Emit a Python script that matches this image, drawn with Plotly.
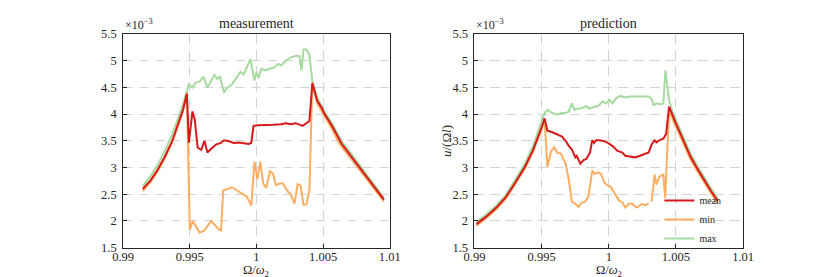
import plotly.graph_objects as go

# ---------------- data (values in units of 1e-3) ----------------
# measurement panel
meas_mean_x = [0.99147, 0.99206, 0.99257, 0.99316, 0.99368, 0.99412, 0.99449, 0.99478,
               0.99493, 0.99520, 0.99537, 0.99559, 0.99586, 0.99610, 0.99632, 0.99669,
               0.99696, 0.99733, 0.99757, 0.99794, 0.99831, 0.99868, 0.99890, 0.99941,
               0.99961, 0.99978, 1.00015, 1.00074, 1.00125, 1.00184, 1.00221, 1.00257,
               1.00294, 1.00346, 1.00397, 1.00419, 1.00456, 1.00493, 1.00507, 1.00566,
               1.00610, 1.00640, 1.00713, 1.00787, 1.00838, 1.00882, 1.00919, 1.00956]
meas_mean_y = [2.60, 2.76, 2.95, 3.22, 3.50, 3.80, 4.08, 4.38,
               3.46, 4.05, 3.90, 3.37, 3.33, 3.50, 3.28, 3.37,
               3.43, 3.46, 3.51, 3.49, 3.46, 3.47, 3.46, 3.44,
               3.46, 3.78, 3.79, 3.79, 3.80, 3.81, 3.83, 3.81,
               3.83, 3.78, 3.87, 4.58, 4.25, 4.10, 4.02, 3.78,
               3.56, 3.44, 3.20, 2.96, 2.78, 2.63, 2.52, 2.40]

meas_min_x = [0.99147, 0.99206, 0.99257, 0.99316, 0.99368, 0.99412, 0.99449, 0.99478,
              0.99500, 0.99522, 0.99574, 0.99610, 0.99660, 0.99721, 0.99735, 0.99750,
              0.99816, 0.99853, 0.99904, 0.99926, 0.99961, 0.99985, 1.00007, 1.00029,
              1.00051, 1.00074, 1.00101, 1.00125, 1.00145, 1.00174, 1.00199, 1.00235,
              1.00257, 1.00285, 1.00309, 1.00331, 1.00353, 1.00375, 1.00397, 1.00419,
              1.00456, 1.00493, 1.00507, 1.00566, 1.00610, 1.00640, 1.00713, 1.00787,
              1.00838, 1.00882, 1.00919, 1.00956]
meas_min_y = [2.56, 2.73, 2.92, 3.19, 3.47, 3.77, 4.05, 4.40,
              1.83, 2.00, 1.78, 1.82, 2.00, 1.83, 1.82, 2.57,
              2.63, 2.57, 2.50, 2.46, 2.29, 3.11, 2.78, 3.11,
              2.70, 2.62, 2.93, 2.88, 2.67, 2.70, 2.70, 2.55,
              2.50, 2.32, 2.69, 2.66, 2.30, 2.31, 2.57, 4.56,
              4.20, 4.04, 3.96, 3.72, 3.50, 3.38, 3.15, 2.91,
              2.74, 2.59, 2.47, 2.36]

meas_max_x = [0.99147, 0.99206, 0.99257, 0.99316, 0.99368, 0.99412, 0.99449, 0.99478,
              0.99493, 0.99520, 0.99544, 0.99574, 0.99603, 0.99632, 0.99684, 0.99706,
              0.99726, 0.99757, 0.99779, 0.99816, 0.99880, 0.99904, 0.99954, 0.99985,
              1.00000, 1.00015, 1.00037, 1.00064, 1.00101, 1.00137, 1.00162, 1.00184,
              1.00221, 1.00257, 1.00294, 1.00321, 1.00338, 1.00353, 1.00375, 1.00397,
              1.00419, 1.00456, 1.00493, 1.00507, 1.00566, 1.00610, 1.00640, 1.00713,
              1.00787, 1.00838, 1.00882, 1.00919, 1.00956]
meas_max_y = [2.65, 2.84, 3.04, 3.33, 3.62, 3.92, 4.18, 4.43,
              4.56, 4.50, 4.59, 4.61, 4.70, 4.50, 4.73, 4.66,
              4.70, 4.40, 4.49, 4.56, 4.79, 4.74, 5.03, 4.63,
              4.79, 4.67, 4.85, 4.82, 4.85, 4.88, 4.94, 4.91,
              5.00, 5.06, 5.09, 5.09, 4.82, 5.21, 5.21, 5.11,
              4.62, 4.30, 4.14, 4.06, 3.83, 3.61, 3.49, 3.25,
              3.00, 2.82, 2.67, 2.55, 2.43]

# prediction panel
pred_mean_x = [0.99014, 0.99087, 0.99159, 0.99232, 0.99304, 0.99377, 0.99435, 0.99471,
               0.99500, 0.99522, 0.99543, 0.99580, 0.99616, 0.99652, 0.99681, 0.99703,
               0.99725, 0.99751, 0.99761, 0.99788, 0.99812, 0.99833, 0.99860, 0.99877,
               0.99891, 0.99906, 0.99933, 0.99969, 0.99993, 1.00029, 1.00065, 1.00101,
               1.00123, 1.00159, 1.00196, 1.00232, 1.00268, 1.00297, 1.00319, 1.00341,
               1.00355, 1.00377, 1.00406, 1.00427, 1.00449, 1.00478, 1.00500, 1.00536,
               1.00572, 1.00609, 1.00659, 1.00710, 1.00761, 1.00812]
pred_mean_y = [1.94, 2.08, 2.24, 2.44, 2.72, 3.02, 3.32, 3.54,
               3.75, 3.92, 3.69, 3.66, 3.62, 3.58, 3.49, 3.40,
               3.34, 3.19, 3.22, 3.07, 3.14, 3.16, 3.28, 3.51,
               3.46, 3.51, 3.51, 3.49, 3.46, 3.40, 3.31, 3.28,
               3.22, 3.21, 3.19, 3.22, 3.25, 3.28, 3.43, 3.51,
               3.47, 3.51, 3.54, 3.63, 4.14, 3.95, 3.82, 3.62,
               3.40, 3.20, 2.98, 2.76, 2.56, 2.37]

pred_min_x = [0.99014, 0.99087, 0.99159, 0.99232, 0.99304, 0.99377, 0.99435, 0.99471,
              0.99500, 0.99522, 0.99543, 0.99570, 0.99594, 0.99616, 0.99643, 0.99679,
              0.99703, 0.99725, 0.99751, 0.99775, 0.99797, 0.99824, 0.99848, 0.99877,
              0.99896, 0.99920, 0.99942, 0.99969, 0.99993, 1.00014, 1.00051, 1.00077,
              1.00101, 1.00123, 1.00150, 1.00174, 1.00196, 1.00210, 1.00246, 1.00268,
              1.00297, None, 1.00319, 1.00341, 1.00355, 1.00377, 1.00406, 1.00420,
              1.00449, 1.00478, 1.00500, 1.00536, 1.00572, 1.00609, 1.00659, 1.00710,
              1.00761, 1.00812]
pred_min_y = [1.91, 2.05, 2.21, 2.41, 2.69, 2.99, 3.29, 3.51,
              3.72, 3.90, 3.01, 3.30, 3.38, 3.28, 3.26, 3.07,
              2.76, 2.36, 2.32, 2.26, 2.34, 2.36, 2.45, 2.94,
              2.88, 2.91, 2.88, 2.71, 2.66, 2.64, 2.50, 2.38,
              2.35, 2.25, 2.32, 2.32, 2.27, 2.25, 2.32, 2.29,
              2.33, None, 2.36, 2.87, 2.68, 2.83, 2.87, 2.43,
              4.06, 3.88, 3.76, 3.56, 3.35, 3.15, 2.93, 2.72,
              2.52, 2.33]

pred_max_x = [0.99014, 0.99087, 0.99159, 0.99232, 0.99304, 0.99377, 0.99435, 0.99471,
              0.99500, 0.99522, 0.99543, 0.99580, 0.99616, 0.99643, 0.99679, 0.99703,
              0.99725, 0.99744, 0.99761, 0.99797, 0.99833, 0.99855, 0.99884, 0.99920,
              0.99957, 0.99978, 1.00005, 1.00029, 1.00051, 1.00087, 1.00123, 1.00159,
              1.00210, 1.00261, 1.00297, 1.00319, 1.00333, 1.00355, 1.00377, 1.00406,
              1.00422, 1.00449, 1.00478, 1.00500, 1.00536, 1.00572, 1.00609, 1.00659,
              1.00710, 1.00761, 1.00812]
pred_max_y = [1.98, 2.12, 2.28, 2.48, 2.77, 3.08, 3.40, 3.64,
              3.87, 4.02, 4.08, 4.02, 3.99, 4.02, 4.02, 4.05,
              4.20, 4.08, 4.10, 4.11, 4.15, 4.10, 4.13, 4.15,
              4.24, 4.20, 4.26, 4.20, 4.29, 4.34, 4.31, 4.33,
              4.33, 4.34, 4.33, 4.29, 4.17, 4.20, 4.18, 4.20,
              4.82, 4.26, 4.02, 3.89, 3.68, 3.46, 3.26, 3.03,
              2.81, 2.61, 2.41]

x_ticks = [0.99, 0.995, 1.0, 1.005, 1.01]
x_tick_labels = ["0.99", "0.995", "1", "1.005", "1.01"]
y_ticks = [1.5, 2, 2.5, 3, 3.5, 4, 4.5, 5, 5.5]
y_tick_labels = ["1.5", "2", "2.5", "3", "3.5", "4", "4.5", "5", "5.5"]
panel_titles = ["measurement", "prediction"]
series_names = ["mean", "min", "max"]

for a, b in [(meas_mean_x, meas_mean_y), (meas_min_x, meas_min_y), (meas_max_x, meas_max_y),
             (pred_mean_x, pred_mean_y), (pred_min_x, pred_min_y), (pred_max_x, pred_max_y)]:
    assert len(a) == len(b)

# ---------------- styling ----------------
FONT = "Liberation Serif"
TXT = "#262626"
COLORS = {"mean": "#d7191c", "min": "#fdae61", "max": "#a6dba0"}
W, H = 822, 277

fig = go.Figure()

panels = [
    ("x", "y", {"mean": (meas_mean_x, meas_mean_y), "min": (meas_min_x, meas_min_y),
                "max": (meas_max_x, meas_max_y)}, False),
    ("x2", "y2", {"mean": (pred_mean_x, pred_mean_y), "min": (pred_min_x, pred_min_y),
                  "max": (pred_max_x, pred_max_y)}, True),
]
rank = {"mean": 1, "min": 2, "max": 3}
for xa, ya, series, show in panels:
    for name in ["max", "min", "mean"]:
        xs, ys = series[name]
        fig.add_trace(go.Scatter(
            x=xs, y=ys, mode="lines", name=name, xaxis=xa, yaxis=ya,
            line=dict(color=COLORS[name], width=2), connectgaps=False,
            showlegend=show, legendrank=rank[name], hoverinfo="skip"))

dom_left = [107 / W, 381 / W]
dom_right = [468 / W, 744 / W]
dom_y = [1 - 245 / H, 1 - 20 / H]

axis_common = dict(
    showline=True, mirror=True, linecolor=TXT, linewidth=0.8,
    ticks="inside", ticklen=4, tickcolor=TXT, tickwidth=0.8,
    showgrid=True, gridcolor="#d4d4d4", gridwidth=1, griddash="10px,6px",
    zeroline=False, tickfont=dict(family=FONT, size=12.5, color=TXT),
)

fig.update_layout(
    width=W, height=H,
    margin=dict(l=0, r=0, t=0, b=0),
    paper_bgcolor="white", plot_bgcolor="white",
    xaxis=dict(domain=dom_left, range=[0.99, 1.01], tickvals=x_ticks,
               ticktext=x_tick_labels, anchor="y", ticklabelstandoff=-3, **axis_common),
    yaxis=dict(domain=dom_y, range=[1.5, 5.5], tickvals=y_ticks,
               ticktext=y_tick_labels, anchor="x", ticklabelstandoff=3, **axis_common),
    xaxis2=dict(domain=dom_right, range=[0.99, 1.01], tickvals=x_ticks,
                ticktext=x_tick_labels, anchor="y2", ticklabelstandoff=-3, **axis_common),
    yaxis2=dict(domain=dom_y, range=[1.5, 5.5], tickvals=y_ticks,
                ticktext=y_tick_labels, anchor="x2", ticklabelstandoff=3, **axis_common),
    legend=dict(x=658 / W, y=1 - 180 / H, xanchor="left", yanchor="top",
                bgcolor="rgba(255,255,255,0)", borderwidth=0,
                font=dict(family=FONT, size=10, color=TXT), tracegroupgap=0),
    showlegend=True,
)

annotations = []
for dom, title in [(dom_left, panel_titles[0]), (dom_right, panel_titles[1])]:
    cx = (dom[0] + dom[1]) / 2
    annotations.append(dict(text=title, x=cx, y=dom_y[1], xref="paper", yref="paper",
                            xanchor="center", yanchor="bottom", yshift=1, showarrow=False,
                            font=dict(family=FONT, size=14, color=TXT)))
    annotations.append(dict(text="×10<sup>−3</sup>", x=dom[0], y=dom_y[1], xref="paper",
                            yref="paper", xanchor="left", yanchor="bottom", yshift=0,
                            showarrow=False, font=dict(family=FONT, size=12, color=TXT)))
    annotations.append(dict(text="Ω/<i>ω</i><sub>2</sub>", x=cx, y=0,
                            xref="paper", yref="paper", xanchor="center", yanchor="bottom",
                            yshift=-2, borderpad=0, showarrow=False,
                            font=dict(family=FONT, size=12.5, color=TXT)))
annotations.append(dict(text="<i>u</i>/(Ω<i>l</i>)", x=440 / W, y=(dom_y[0] + dom_y[1]) / 2,
                        xref="paper", yref="paper", xanchor="center", yanchor="middle",
                        textangle=-90, showarrow=False,
                        font=dict(family=FONT, size=13, color=TXT)))
fig.update_layout(annotations=annotations)

fig.write_html("out.html")
